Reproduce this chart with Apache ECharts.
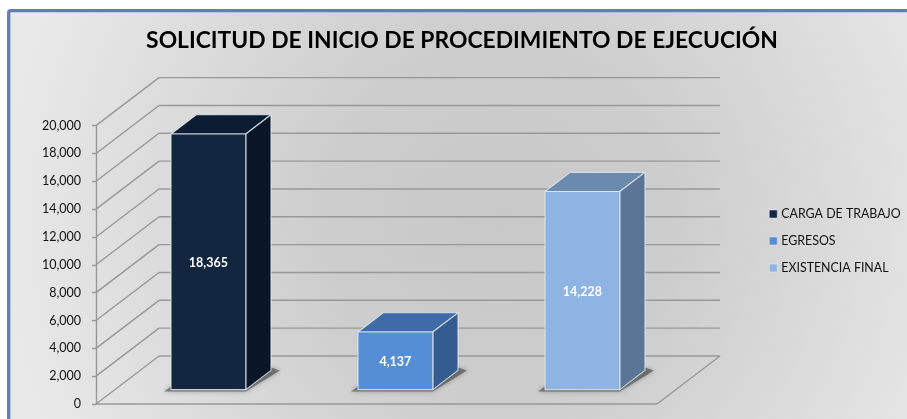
<!DOCTYPE html>
<html><head><meta charset="utf-8">
<style>html,body{margin:0;padding:0;background:#fff;overflow:hidden}#c{width:907px;height:419px}</style>
<script src="https://cdn.jsdelivr.net/npm/echarts@6/dist/echarts.min.js"></script>
</head><body><div id="c"></div>
<script>
const titleText = 'SOLICITUD DE INICIO DE PROCEDIMIENTO DE EJECUCIÓN';
const categories = ['CARGA DE TRABAJO', 'EGRESOS', 'EXISTENCIA FINAL'];
const seriesValues = [18365, 4137, 14228];
const seriesColors = [
  {front:'#12263f', top:'#0b1c33', side:'#0a1628'},
  {front:'#558ed5', top:'#3f6ca6', side:'#345c90'},
  {front:'#8db4e3', top:'#6c89ae', side:'#5b7596'}
];
const yTicks = [0,2000,4000,6000,8000,10000,12000,14000,16000,18000,20000];

const chart = echarts.init(document.getElementById('c'), null, {renderer:'canvas'});
const DX = 63, DY = -48;
const FONT = 'Lato, "Open Sans", sans-serif';

function wallRender(params, api){
  const v = api.value(0);
  const p = api.coord([0, v]);
  const cs = params.coordSys;
  const x0 = cs.x, x1 = cs.x + cs.width;
  const line = (a,b,c,d)=>({type:'line',shape:{x1:a,y1:b,x2:c,y2:d},style:{stroke:'#989898',lineWidth:1.4}});
  const ch = [
    line(x0,p[1],x0+DX,p[1]+DY),
    line(x0+DX,p[1]+DY,x1+DX,p[1]+DY)
  ];
  if(v===0){
    ch.push(line(x0,p[1],x1,p[1]));
    ch.push(line(x1,p[1],x1+DX,p[1]+DY));
  }
  return {type:'group',children:ch};
}
function barRender(params, api){
  const i = api.value(0), v = api.value(1);
  const c = seriesColors[i];
  const base = api.coord([i,0]), top = api.coord([i,v]);
  const bw = api.size([1,0])[0]*0.4;
  const ox = DX*0.3, oy = DY*0.3, bx = DX*0.4, by = DY*0.4;
  const l = base[0]-bw/2+ox, r = l+bw, b = base[1]+oy, t = top[1]+oy;
  const edge = {stroke:'rgba(225,232,240,0.85)',lineWidth:1.1,lineJoin:'round'};
  const poly = (pts,fill,st)=>({type:'polygon',shape:{points:pts},style:Object.assign({fill},st||{})});
  return {type:'group',children:[
    {type:'polygon',shape:{points:[[l-7,b+2],[r,b+2],[r+bx+9,b+by],[r+bx,b+by-3],[r,b-3],[l,b-3]]},
     style:{fill:'rgba(50,50,50,0.5)',shadowBlur:5,shadowColor:'rgba(40,40,40,0.7)'}},
    poly([[l,t],[r,t],[r+bx,t+by],[l+bx,t+by]],c.top,edge),
    poly([[r,t],[r+bx,t+by],[r+bx,b+by],[r,b]],c.side,edge),
    poly([[l,t],[r,t],[r,b],[l,b]],c.front,edge),
    {type:'text',style:{x:(l+r)/2,y:(t+b)/2+1.5,text:echarts.format.addCommas(v),fill:'#fff',
      font:'bold 12.5px '+FONT,align:'center',verticalAlign:'middle'}}
  ]};
}

chart.setOption({
  animation:false,
  backgroundColor:'#fff',
  graphic:[{type:'rect',z:-10,shape:{x:8.7,y:10.7,width:1000,height:500,r:2},
    style:{stroke:'#5f7fb3',lineWidth:3.3,
      fill:{type:'radial',x:500,y:220,r:500,global:true,colorStops:[
        {offset:0,color:'#c8c8c8'},{offset:0.35,color:'#cdcdcd'},{offset:1,color:'#e9e9e9'}]}}}],
  title:{text:titleText,left:457,top:24,textAlign:'center',
    textStyle:{fontFamily:FONT,fontWeight:'bold',fontSize:22.85,color:'#000'}},
  legend:{orient:'vertical',left:764,top:203,itemWidth:8,itemHeight:8,itemGap:15,
    icon:'rect',data:categories,
    textStyle:{fontFamily:FONT,fontSize:12.4,color:'#111',padding:[0,0,0,-1]},
    itemStyle:{borderColor:'#eef',borderWidth:0.5}},
  grid:{left:96,right:250,top:125.6,bottom:15,containLabel:false},
  xAxis:{type:'category',data:categories,axisLabel:{show:false},axisTick:{show:false},axisLine:{show:false},splitLine:{show:false}},
  yAxis:{type:'value',min:0,max:20000,interval:2000,
    axisLabel:{fontFamily:FONT,fontSize:12.5,color:'#111',margin:15,
      formatter:v=>echarts.format.addCommas(v)},
    axisLine:{show:true,lineStyle:{color:'#989898',width:1.4}},
    axisTick:{show:true,length:4,lineStyle:{color:'#989898',width:1.4}},
    splitLine:{show:false}},
  series:[
    {type:'custom',name:'walls',silent:true,z:1,encode:{y:0},data:yTicks.map(v=>[v]),renderItem:wallRender,tooltip:{show:false}},
    ...categories.map((n,i)=>({type:'custom',name:n,z:3,itemStyle:{color:seriesColors[i].front},
      encode:{x:0,y:1},data:[[i,seriesValues[i]]],renderItem:barRender}))
  ]
});
</script></body></html>
